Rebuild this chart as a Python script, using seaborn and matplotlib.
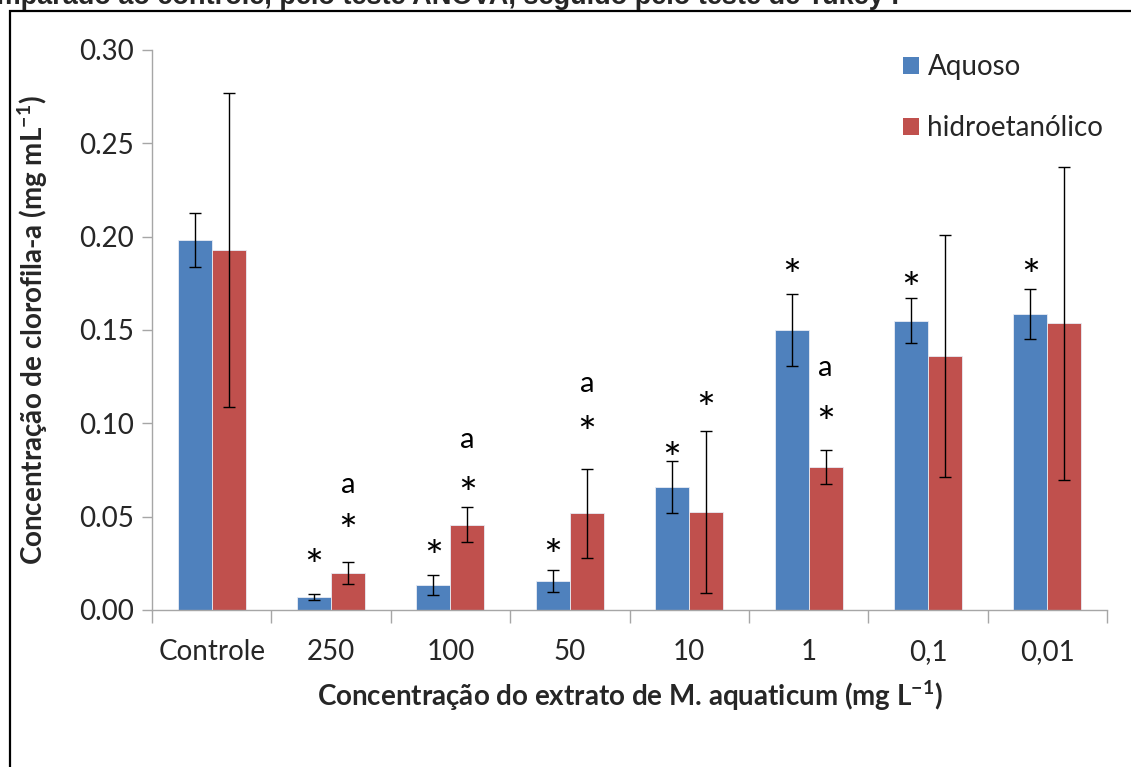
import matplotlib
matplotlib.use("Agg")
import matplotlib.pyplot as plt
from matplotlib.patches import Rectangle
from matplotlib.transforms import offset_copy
import seaborn as sns
import pandas as pd

# Chlorophyll-a concentration (mg mL-1) per extract concentration
categories = ["Controle", "250", "100", "50", "10", "1", "0,1", "0,01"]
series_names = ["Aquoso", "hidroetanólico"]
aquoso_mean = [0.198, 0.0068, 0.0134, 0.0155, 0.066, 0.150, 0.155, 0.1585]
aquoso_err = [0.0145, 0.0017, 0.0055, 0.0058, 0.014, 0.0195, 0.012, 0.0135]
hidro_mean = [0.193, 0.0198, 0.0457, 0.0518, 0.0525, 0.0765, 0.136, 0.1535]
hidro_err = [0.084, 0.006, 0.0095, 0.024, 0.0435, 0.009, 0.065, 0.084]

# Significance marks: (category index, series index, text, y position)
marks = [
    (1, 0, "*", 0.0295), (1, 1, "*", 0.0482), (1, 1, "a", 0.067),
    (2, 0, "*", 0.0344), (2, 1, "*", 0.068), (2, 1, "a", 0.091),
    (3, 0, "*", 0.0348), (3, 1, "*", 0.1007), (3, 1, "a", 0.121),
    (4, 0, "*", 0.0868), (4, 1, "*", 0.1136),
    (5, 0, "*", 0.1848), (5, 1, "*", 0.106), (5, 1, "a", 0.1296),
    (6, 0, "*", 0.178),
    (7, 0, "*", 0.185),
]

colors = ["#4F81BD", "#C0504D"]

df = pd.DataFrame({
    "categoria": categories * 2,
    "serie": [series_names[0]] * len(categories) + [series_names[1]] * len(categories),
    "valor": aquoso_mean + hidro_mean,
    "erro": aquoso_err + hidro_err,
})

sns.set_style("white")
plt.rcParams["font.family"] = ["Lato", "DejaVu Sans"]

W, H = 1131, 767
fig = plt.figure(figsize=(W / 100, H / 100), dpi=100)
ax = fig.add_axes([152 / W, (H - 610) / H, (1107 - 152) / W, 560 / H])

sns.barplot(data=df, x="categoria", y="valor", hue="serie", order=categories,
            hue_order=series_names, palette=colors, width=0.57, errorbar=None,
            saturation=1, edgecolor="#E8ECF4", linewidth=0.6, ax=ax, legend=False)

# error bars at the bar centres
errs = [aquoso_err, hidro_err]
bar_groups = list(ax.containers)
centers = {}
for s, cont in enumerate(bar_groups):
    xs = [p.get_x() + p.get_width() / 2 for p in cont.patches]
    ys = [p.get_height() for p in cont.patches]
    for i, x in enumerate(xs):
        centers[(i, s)] = x
    ax.errorbar(xs, ys, yerr=errs[s], fmt="none", ecolor="black",
                elinewidth=1.0, capsize=4.3, capthick=1.0, zorder=3)

# asterisks sit high in their text box, so shift them down to centre the glyph
star_size, letter_size = 32, 21
star_tr = offset_copy(ax.transData, fig=fig, x=0, y=-0.3 * star_size, units="points")
for i, s, txt, y in marks:
    if txt == "*":
        ax.text(centers[(i, s)], y, txt, ha="center", va="center",
                fontsize=star_size, color="black", transform=star_tr)
    else:
        ax.text(centers[(i, s)], y, txt, ha="center", va="center",
                fontsize=letter_size, color="black")

ax.set_xlim(-0.5, len(categories) - 0.5)
ax.set_ylim(0, 0.30)
ax.set_yticks([0, 0.05, 0.10, 0.15, 0.20, 0.25, 0.30])
ax.set_yticklabels(["0.00", "0.05", "0.10", "0.15", "0.20", "0.25", "0.30"])

for side in ["top", "right"]:
    ax.spines[side].set_visible(False)
for side in ["left", "bottom"]:
    ax.spines[side].set_color("#A6A6A6")
    ax.spines[side].set_linewidth(1.0)

ax.tick_params(axis="y", which="major", direction="out", length=7, width=1.0,
               color="#A6A6A6", labelsize=20, pad=6, left=True)
ax.tick_params(axis="x", which="major", length=0, labelsize=20, pad=21)
# category separator ticks on the x axis
ax.set_xticks([i - 0.5 for i in range(len(categories) + 1)], minor=True)
ax.tick_params(axis="x", which="minor", direction="out", length=9, width=1.0,
               color="#A6A6A6", bottom=True)

ax.set_xlabel("Concentração do extrato de M. aquaticum (mg L$^{\\mathregular{-1}}$)",
              fontsize=20, fontweight="bold", labelpad=9)
ax.set_ylabel("Concentração de clorofila-a (mg mL$^{\\mathregular{-1}}$)",
              fontsize=20, fontweight="bold", labelpad=21)

handles = [Rectangle((0, 0), 1, 1, facecolor=c, edgecolor="none") for c in colors]
leg = ax.legend(handles, series_names, loc="upper left",
                bbox_to_anchor=(903 / W, 1 - 54 / H), bbox_transform=fig.transFigure,
                frameon=False, fontsize=20, handlelength=0.56, handleheight=0.56,
                handletextpad=0.32, labelspacing=1.27, borderaxespad=0, borderpad=0)

# outer frame and the caption line above it
fig.add_artist(Rectangle((10 / W, -0.05), 1.1, (H - 11) / H + 0.05,
                         transform=fig.transFigure, fill=False,
                         edgecolor="black", linewidth=1.6))
fig.text(-35 / W, 1 - 4 / H,
         "comparado ao controle, pelo teste ANOVA, seguido pelo teste de Tukey .",
         fontsize=19.5, fontweight="bold", family=["Liberation Sans", "DejaVu Sans"],
         ha="left", va="baseline")

fig.savefig("out.png", dpi=100)
